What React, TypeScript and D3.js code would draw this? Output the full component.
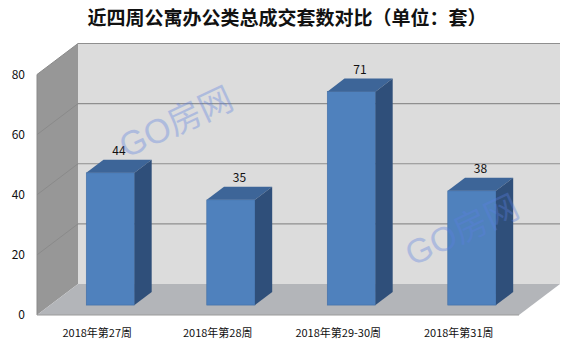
import React, { useEffect, useRef } from 'react';
import * as d3 from 'd3';

// 数据
const categories = ['2018年第27周', '2018年第28周', '2018年第29-30周', '2018年第31周'];
const values = [44, 35, 71, 38];
const yTicks = [0, 20, 40, 60, 80];
const title = '近四周公寓办公类总成交套数对比（单位：套）';
const watermark = 'GO房网';

const FONT = "'Noto Sans CJK SC', 'Liberation Sans', Arial, sans-serif";

const App = () => {
  const chartRef = useRef<HTMLDivElement | null>(null);

  useEffect(() => {
    if (chartRef.current) drawChart();
  }, []);

  const drawChart = () => {
    d3.select(chartRef.current).selectAll('*').remove();

    const width = 571;
    const height = 353;

    // 前平面坐标
    const front = { left: 37, right: 519, bottom: 315, top: 74.5 };
    // 纵深偏移 (后墙相对前平面)
    const depth = { dx: 41, dy: -31 };

    const svg = d3.select(chartRef.current)
      .append('svg')
      .attr('width', width)
      .attr('height', height)
      .style('display', 'block')
      .style('background', '#fff');

    const xScale = d3.scaleBand<string>()
      .domain(categories)
      .range([front.left, front.right])
      .padding(0);

    const yScale = d3.scaleLinear()
      .domain([0, 80])
      .range([front.bottom, front.top]);

    const backX0 = front.left + depth.dx;
    const backX1 = front.right + depth.dx;
    const by = (v: number) => yScale(v) + depth.dy;

    // 后墙
    svg.append('rect')
      .attr('x', backX0)
      .attr('y', by(80))
      .attr('width', backX1 - backX0)
      .attr('height', by(0) - by(80))
      .attr('fill', '#dcdcdc');

    // 侧墙
    svg.append('polygon')
      .attr('points', [
        [front.left, yScale(80)], [backX0, by(80)], [backX0, by(0)], [front.left, yScale(0)]
      ].map(p => p.join(',')).join(' '))
      .attr('fill', '#979797');

    // 地板
    svg.append('polygon')
      .attr('points', [
        [front.left, yScale(0)], [backX0, by(0)], [backX1, by(0)], [front.right, yScale(0)]
      ].map(p => p.join(',')).join(' '))
      .attr('fill', '#b3b5b9');

    // 网格线
    const grid = svg.append('g');
    yTicks.filter(t => t > 0).forEach(t => {
      grid.append('line')
        .attr('x1', backX0).attr('x2', backX1)
        .attr('y1', by(t)).attr('y2', by(t))
        .style('stroke', '#8f8f8f').style('stroke-width', 1.2);
      grid.append('line')
        .attr('x1', front.left).attr('x2', backX0)
        .attr('y1', yScale(t)).attr('y2', by(t))
        .style('stroke', '#8a8a8a').style('stroke-width', 1);
    });
    grid.append('line')
      .attr('x1', front.left).attr('x2', front.right)
      .attr('y1', yScale(0)).attr('y2', yScale(0))
      .style('stroke', '#9a9a9a').style('stroke-width', 1);
    grid.append('line')
      .attr('x1', front.left).attr('x2', front.left)
      .attr('y1', yScale(0)).attr('y2', yScale(80))
      .style('stroke', '#8a8a8a').style('stroke-width', 1);

    // 柱子
    const offX = depth.dx * 0.32;
    const offY = depth.dy * 0.32;
    const bdx = depth.dx * 0.42;
    const bdy = depth.dy * 0.42;
    const barW = xScale.bandwidth() * 0.4;

    const bars = svg.append('g');
    values.forEach((v, i) => {
      const cx = (xScale(categories[i]) as number) + xScale.bandwidth() / 2 + offX;
      const x0 = cx - barW / 2;
      const x1 = cx + barW / 2;
      const yT = yScale(v) + offY;
      const yB = yScale(0) + offY;

      // 正面
      bars.append('rect')
        .attr('x', x0).attr('y', yT)
        .attr('width', barW).attr('height', yB - yT)
        .attr('fill', '#4f81bd')
        .style('stroke', '#416ea6').style('stroke-width', 0.6);
      // 顶面
      bars.append('polygon')
        .attr('points', [[x0, yT], [x0 + bdx, yT + bdy], [x1 + bdx, yT + bdy], [x1, yT]]
          .map(p => p.join(',')).join(' '))
        .attr('fill', '#3d6598');
      // 侧面
      bars.append('polygon')
        .attr('points', [[x1, yT], [x1 + bdx, yT + bdy], [x1 + bdx, yB + bdy], [x1, yB]]
          .map(p => p.join(',')).join(' '))
        .attr('fill', '#2f4f7a');

      // 数值标签
      bars.append('text')
        .attr('x', cx + bdx / 2)
        .attr('y', yT + bdy - 5)
        .attr('text-anchor', 'middle')
        .style('font-size', '12px')
        .style('fill', '#111')
        .style('font-family', FONT)
        .text(v);
    });

    // y轴标签
    svg.append('g').selectAll('text')
      .data(yTicks)
      .enter()
      .append('text')
      .attr('x', 25)
      .attr('y', d => yScale(d))
      .attr('dy', '0.35em')
      .attr('text-anchor', 'end')
      .style('font-size', '12px')
      .style('fill', '#111')
      .style('font-family', FONT)
      .text(d => d);

    // x轴标签
    svg.append('g').selectAll('text')
      .data(categories)
      .enter()
      .append('text')
      .attr('x', d => (xScale(d) as number) + xScale.bandwidth() / 2)
      .attr('y', 337)
      .attr('text-anchor', 'middle')
      .style('font-size', '11px')
      .style('fill', '#111')
      .style('font-family', FONT)
      .text(d => d);

    // 标题
    svg.append('text')
      .attr('x', 287)
      .attr('y', 25)
      .attr('text-anchor', 'middle')
      .style('font-size', '19px')
      .style('font-weight', 'bold')
      .style('fill', '#111')
      .style('font-family', FONT)
      .text(title);

    // 水印
    [[176, 122], [462, 230]].forEach(([x, y]) => {
      svg.append('text')
        .attr('transform', `translate(${x},${y}) rotate(-25)`)
        .attr('text-anchor', 'middle')
        .attr('dominant-baseline', 'central')
        .style('font-size', '34px')
        .style('fill', '#5b7fe0')
        .style('opacity', 0.35)
        .style('font-family', "'Liberation Sans', 'Noto Sans CJK SC', sans-serif")
        .text(watermark);
    });
  };

  return (
    <div
      ref={chartRef}
      style={{ position: 'absolute', left: 0, top: 0, width: 571, height: 353 }}
    />
  );
};

export default App;
